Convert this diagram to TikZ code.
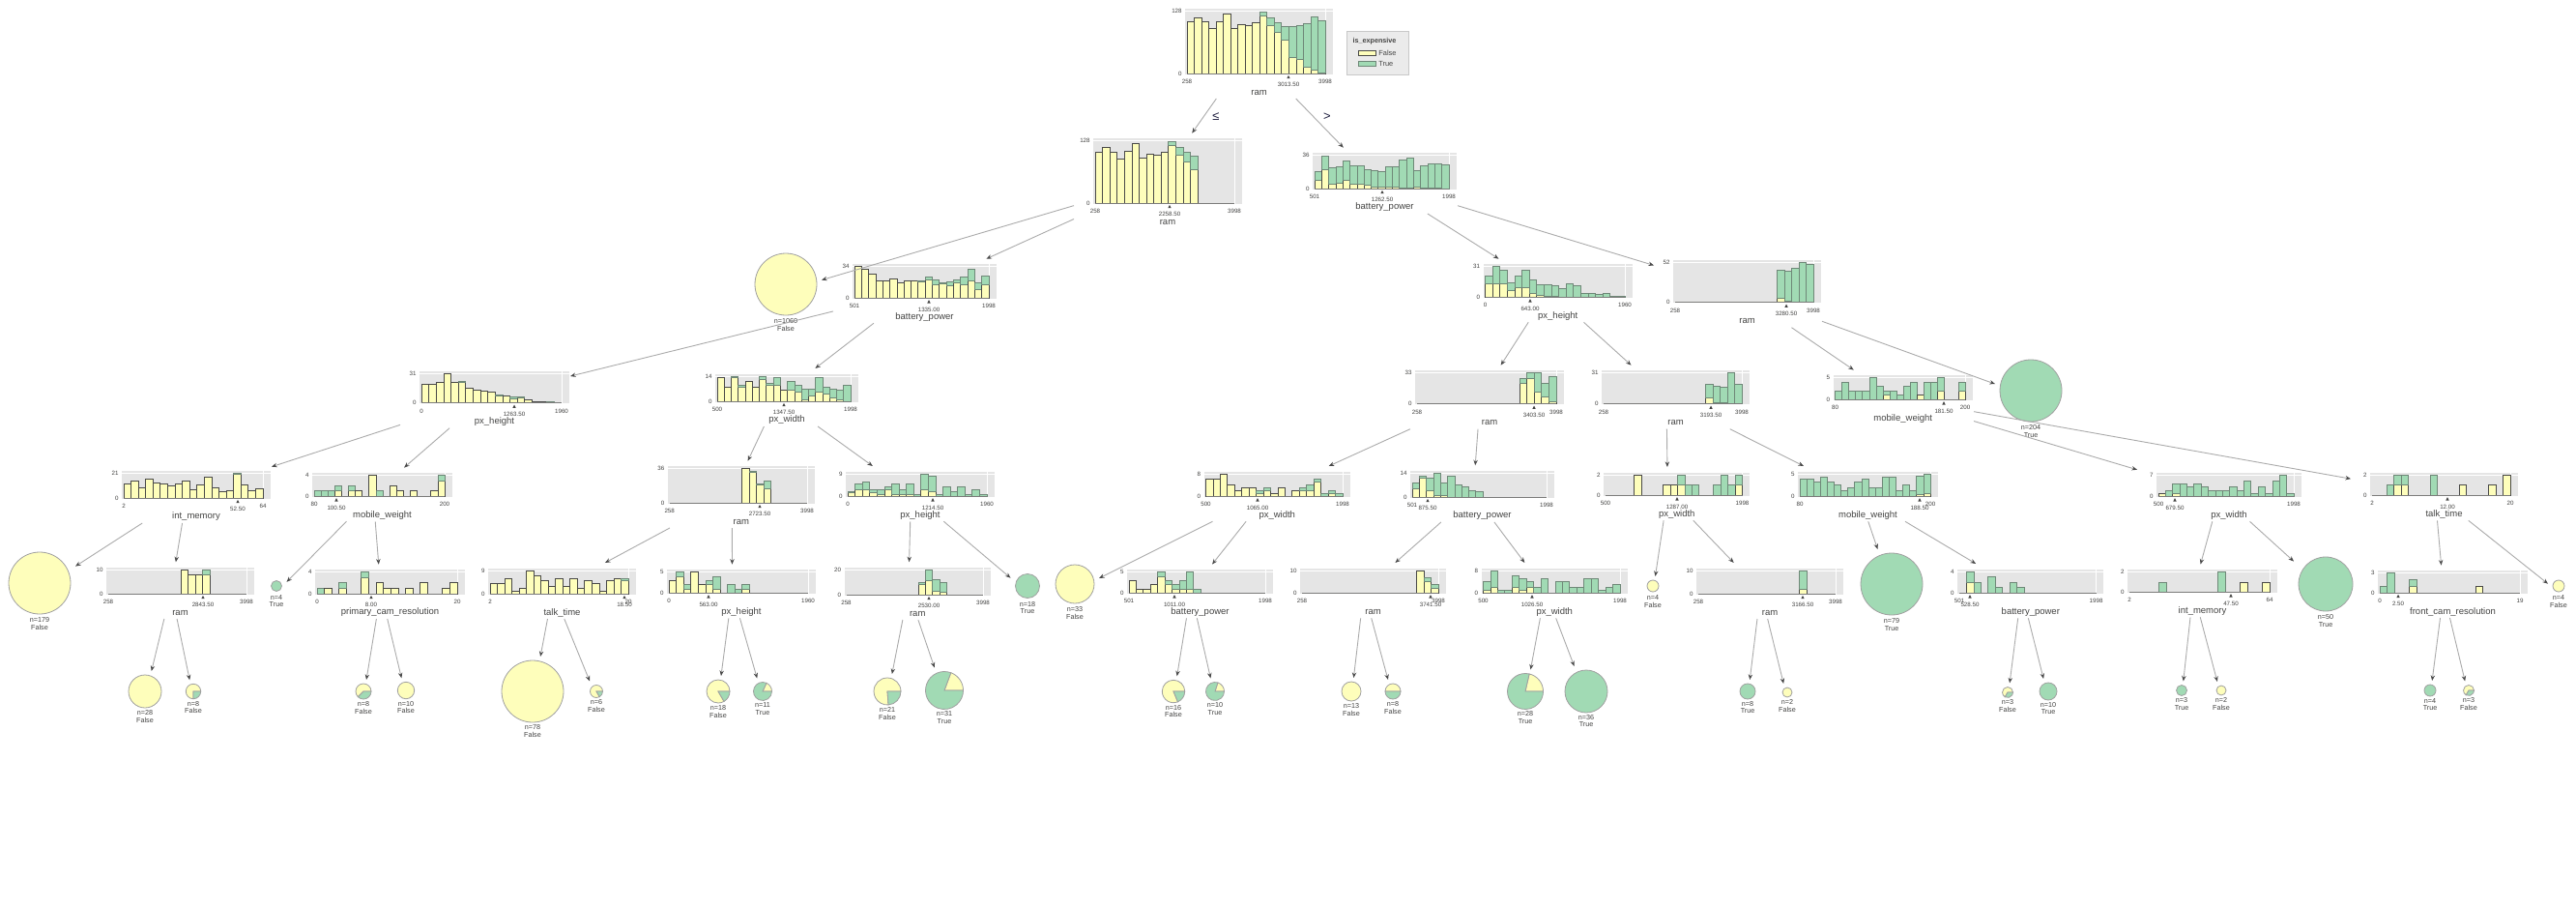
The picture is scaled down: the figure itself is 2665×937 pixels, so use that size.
\documentclass[tikz,border=0pt]{standalone}
\usepackage{fontspec}
\setmainfont{Liberation Sans}
\usetikzlibrary{arrows.meta}
\definecolor{cY}{HTML}{FEFEBB}
\definecolor{cG}{HTML}{A1DAB4}
\definecolor{cBg}{HTML}{E5E5E5}
\definecolor{cYe}{HTML}{4A4A48}
\definecolor{cGe}{HTML}{6F8878}
\definecolor{cTxt}{HTML}{444443}
\definecolor{cEdge}{HTML}{ABABAB}
\definecolor{cArr}{HTML}{4A4A4A}
\definecolor{cCirc}{HTML}{A0A0A0}
\definecolor{cLeg}{HTML}{EBEBEB}
\definecolor{cLegB}{HTML}{C8C8C8}
\definecolor{cSplit}{HTML}{202040}
\tikzset{
 ybar/.style={fill=cY,draw=cYe,line width=0.4pt},
 gbar/.style={fill=cG,draw=cGe,line width=0.4pt},
 ticklab/.style={inner sep=0,text=cTxt,font=\fontsize{3.1pt}{3.4pt}\selectfont},
 featlab/.style={inner sep=0,text=cTxt,font=\fontsize{4.75pt}{5pt}\selectfont},
 leaflab/.style={inner sep=0,text=cTxt,font=\fontsize{3.6pt}{4pt}\selectfont},
 leglab/.style={inner sep=0,text=cTxt,font=\fontsize{3.7pt}{4pt}\selectfont},
 bbox/.style={inner sep=0,outer sep=0},
 edge/.style={draw=cEdge,line width=0.45pt,-{Stealth[length=2.8pt,width=2.2pt,color=cArr]}},
 circ/.style={draw=cCirc,line width=0.4pt},
 splitlab/.style={inner sep=0,text=cSplit,font=\fontsize{6.5pt}{7pt}\selectfont},
}
% histogram node: name, xa, xb, ybase, H, max, bars
\newcommand\hnode[7]{%
 \def\hxa{#2}\def\hxb{#3}\def\hyb{#4}%
 \fill[cBg] (#2-2,#4-#5-2.5) rectangle (#3+7.5,#4+0.5);
 \draw[white,line width=0.5pt] (#2-2,#4-#5) -- (#3+7.5,#4-#5);
 \draw[white,line width=0.5pt] (#3,#4-#5-2.5) -- (#3,#4+0.5);
 \foreach \q [count=\c] in {#7} {\xdef\nb{\c}}
 \foreach \yy/\gg [count=\i] in {#7} {%
   \pgfmathsetmacro\xl{#2+(\i-1)*(#3-#2)/\nb}%
   \pgfmathsetmacro\xr{#2+\i*(#3-#2)/\nb}%
   \pgfmathsetmacro\ht{#5*\yy/#6}%
   \pgfmathsetmacro\hg{#5*(\yy+\gg)/#6}%
   \ifdim\yy pt>0pt \draw[ybar] (\xl,#4) rectangle (\xr,#4-\ht);\fi
   \ifdim\gg pt>0pt \draw[gbar] (\xl,#4-\ht) rectangle (\xr,#4-\hg);\fi
 }
 \draw[cTxt!70,line width=0.4pt] (#2,#4) -- (#3,#4);
 \node[ticklab,anchor=east] at (#2-5,#4-#5) {#6};
 \node[ticklab,anchor=east] at (#2-5,#4) {0};
 \pgfmathsetmacro\bw{(#3-#2+31)*0.5}%
 \pgfmathsetmacro\bh{(#5+34)*0.5}%
 \node[bbox,minimum width=\bw pt,minimum height=\bh pt] (#1) at ({(#2+#3)/2-6.5},{#4-#5/2+9}) {};
}
% axis labels: min, max, xs, split, feature
\newcommand\axl[5]{%
 \node[ticklab] at (\hxa,\hyb+8.5) {#1};
 \node[ticklab] at (\hxb,\hyb+8.5) {#2};
 \node[ticklab] at (#3,\hyb+11.8) {#4};
 \fill[cTxt] (#3,\hyb+1.8) -- (#3-1.7,\hyb+5.2) -- (#3+1.7,\hyb+5.2) -- cycle;
 \node[featlab] at ({(\hxa+\hxb)/2+3},\hyb+19.5) {#5};
}
% leaf: name, cx, cy, r, colour, n, label
\newcommand\leafnode[7]{%
 \filldraw[fill=#5,circ] (#2,#3) circle[radius=#4];
 \node[leaflab] at (#2,#3+#4+6.5) {n=#6};
 \node[leaflab] at (#2,#3+#4+14) {#7};
 \pgfmathsetmacro\bw{(2*#4+10)*0.5}%
 \pgfmathsetmacro\bh{(2*#4+21)*0.5}%
 \node[bbox,minimum width=\bw pt,minimum height=\bh pt] (#1) at (#2,#3+6.5) {};
}
% pie: name, cx, cy, r, nYellow, nGreen, label
\newcommand\pienode[7]{%
 \pgfmathtruncatemacro\pn{#5+#6}%
 \pgfmathsetmacro\pa{-360*(#5/(#5+#6))}%
 \ifnum#6=0 \filldraw[fill=cY,circ] (#2,#3) circle[radius=#4];
 \else\ifnum#5=0 \filldraw[fill=cG,circ] (#2,#3) circle[radius=#4];
 \else
  \filldraw[fill=cY,circ] (#2,#3) -- ++(0:#4) arc[start angle=0,end angle=\pa,radius=#4] -- cycle;
  \filldraw[fill=cG,circ] (#2,#3) -- ++(\pa:#4) arc[start angle=\pa,end angle=-360,radius=#4] -- cycle;
 \fi\fi
 \node[leaflab] at (#2,#3+#4+5) {n=\pn};
 \node[leaflab] at (#2,#3+#4+12.5) {#7};
 \pgfmathsetmacro\bw{(2*#4+10)*0.5}%
 \pgfmathsetmacro\bh{(2*#4+21)*0.5}%
 \node[bbox,minimum width=\bw pt,minimum height=\bh pt] (#1) at (#2,#3+6.5) {};
}
\begin{document}
\begin{tikzpicture}[x=0.5pt,y=-0.5pt]
\useasboundingbox (0,0) rectangle (2665,937);
\fill[white] (0,0) rectangle (2665,937);

% level 0
\hnode{R}{1228}{1371}{76}{64.3}{128}{106/0,115/0,106/0,92/0,107/0,123/0,93/0,101/0,98/0,105/0,118/8,99/16,85/20,68/29,33/64,30/69,13/90,7/109,1/107}
\axl{258}{3998}{1333}{3013.50}{ram}
% legend
\node[bbox,draw=cLegB,fill=cLeg,minimum width=32pt,minimum height=22.5pt] (legend) at (1425,54.5) {};
\node[leglab,font=\fontsize{3.6pt}{4pt}\selectfont\bfseries] (legtitle) at (1422,43) {is\_expensive};
\filldraw[fill=cY,draw=cYe,line width=0.4pt] (1405,52) rectangle (1423,57.5);
\node[leglab,anchor=west] (legF) at (1426,54.8) {False};
\filldraw[fill=cG,draw=cGe,line width=0.4pt] (1405,63) rectangle (1423,68.5);
\node[leglab,anchor=west] (legT) at (1426,65.8) {True};

% level 1
\hnode{A}{1133}{1277}{210}{64.3}{128}{105/0,115/0,105/0,91/0,106/0,123/0,93/0,100/0,98/0,104/0,118/8,98/17,85/19,69/27,0/0,0/0,0/0,0/0,0/0}
\axl{258}{3998}{1210}{2258.50}{ram}
\hnode{B}{1360}{1499}{195}{34.3}{36}{9/9,21/14,5/18,6/18,9/21,5/20,5/20,4/17,2/18,2/16,2/22,2/22,1/30,1/32,2/18,0.4/24,0.4/26,0.4/26,0/26}
\axl{501}{1998}{1430}{1262.50}{battery\_power}

% level 2
\leafnode{L1}{813}{294}{32}{cY}{1060}{False}
\hnode{C}{884}{1023}{308.3}{32.6}{34}{34/0,31/0,26/0,19/0,19/0,21/0,17/0,19/0,19/0,18/1,20/3,14/6,16/1,13/5,17/3,14/9,19/12,9/8,14/10}
\axl{501}{1998}{961}{1335.00}{battery\_power}
\hnode{D}{1536.5}{1681}{307.3}{31.6}{31}{14/7,14/17,14/13,7/8,10/11,10/17,4/14,2/11,1/12,1/11,0/9,0/14,0/12,0/4,0/4,0/3,0/4,0/1,0/1}
\axl{0}{1960}{1583}{643.00}{px\_height}
\hnode{E}{1733}{1876}{312.7}{41.7}{52}{0/0,0/0,0/0,0/0,0/0,0/0,0/0,0/0,0/0,0/0,0/0,0/0,0/0,0/0,5/37,2/38,0/44,0/52,0/49}
\axl{258}{3998}{1848}{3280.50}{ram}

% level 3
\hnode{F}{436}{581}{416.7}{30}{31}{20/0,20/0,22/0,31/0,22/0,22/1,16/0,14/0,13/0,12/0,8/1,8/0,4/3,5/1,3/0,1/0,1/0,1/0.5,0/0}
\axl{0}{1960}{532}{1263.50}{px\_height}
\hnode{G}{742}{880}{415}{26}{14}{13/0,8/0,13/1,8/1,11/0,8/0,12/2,9/1,9/4,6/0,6/5,5/4,1/6,3/4,5/8,4/4,2/5,1/5,0/9}
\axl{500}{1998}{811}{1347.50}{px\_width}
\hnode{H}{1466}{1610}{417.7}{32}{33}{0/0,0/0,0/0,0/0,0/0,0/0,0/0,0/0,0/0,0/0,0/0,0/0,0/0,0/0,22/5,27/6,13/20,8/14,2/27}
\axl{258}{3998}{1587}{3403.50}{ram}
\hnode{I}{1659}{1802}{417.7}{32}{31}{0/0,0/0,0/0,0/0,0/0,0/0,0/0,0/0,0/0,0/0,0/0,0/0,0/0,0/0,6/14,1/17,1/16,0/31,0/20}
\axl{258}{3998}{1770}{3193.50}{ram}
\hnode{J}{1898.5}{2033}{413.3}{22.7}{5}{0/2,0/4,0/2,0/2,0/2,0/5,0/3,1/1,0/2,0/1,0/3,0/4,1/0,0/4,0/4,2/3,0/0,0/0,2/2}
\axl{80}{200}{2011}{181.50}{mobile\_weight}
\leafnode{L2}{2101}{404}{32}{cG}{204}{True}

% level 4
\hnode{K}{128}{272}{515}{25.7}{21}{12/0,14/0,9/0,16/0,13/0,12/0,10/0,12/0,14/0,7/0,11/0,18/0,9/0,5/0,6/0,20/1,11/0,6/0,8/0}
\axl{2}{64}{246}{52.50}{int\_memory}
\hnode{M}{325}{460}{513.3}{21.7}{4}{0/1,0/1,0/1,1/1,0/0,1/1,1/0,0/0,4/0,0/1,0/0,2/0,1/0,0/0,1/0,0/0,0/0,1/0,3/1}
\axl{80}{200}{348}{100.50}{mobile\_weight}
\hnode{N}{692.7}{835}{520}{35.3}{36}{0/0,0/0,0/0,0/0,0/0,0/0,0/0,0/0,0/0,0/0,36/0,32/1,19/1,15/8,0/0,0/0,0/0,0/0,0/0}
\axl{258}{3998}{786}{2723.50}{ram}
\hnode{O}{877}{1021}{513.3}{23.3}{9}{1.5/0.4,2.8/2.1,2.8/3,1.5/1.3,0.6/2.2,2.8/1.1,0.6/4.3,0.6/2.2,0.6/4.3,0/0.6,2.8/6.2,1.9/6.1,0/0.6,0/3.9,0/1.9,0/3.9,0/0.6,0/2.8,0/0.6}
\axl{0}{1960}{965}{1214.50}{px\_height}
\hnode{P}{1247.5}{1389}{513.3}{23.3}{8}{6/0,6/0,8/0,4/0,2/0,3/0,3/0,1/1,2/1,1/0,3/0,0/0,2/0,2/1,2/2,5/1,0/1,1/1,0/1}
\axl{500}{1998}{1301}{1065.00}{px\_width}
\hnode{Q}{1461}{1600}{514}{24.7}{14}{5/3,11/1,4/7,1/13,1/7,0/12,0/7,0/6,0/4,0/3,0/0,0/0,0/0,0/0,0/0,0/0,0/0,0/0,0/0}
\axl{501}{1998}{1477}{875.50}{battery\_power}
\hnode{S}{1661}{1802.5}{512.3}{21.3}{2}{0/0,0/0,0/0,0/0,2/0,0/0,0/0,0/0,1/0,1/0,1/1,0/1,0/1,0/0,0/0,0/1,0/2,0/1,1/1}
\axl{500}{1998}{1735}{1287.00}{px\_width}
\hnode{T}{1862}{1997}{513.3}{23.3}{5}{0/3.8,0/3.8,0/3.1,0/4.3,0/3.1,0/2.6,0/1.3,0/2,0/3.1,0/3.8,0/2,0/2,0/4.3,0/4.3,0/1.3,0/2.6,0/1.3,0.4/4,0.6/4.4}
\axl{80}{200}{1986}{188.50}{mobile\_weight}
\hnode{U}{2233}{2373}{513.3}{22.3}{7}{1/0,0/2,1/3,0/4,0/3,0/4,0/3,0/2,0/2,0/2,0/3,0/2,0/5,0/1,0/3,0/1,0/5,0/7,0/1}
\axl{500}{1998}{2250}{679.50}{px\_width}
\hnode{V}{2454}{2597}{512.3}{21.3}{2}{0/0,0/0,0/1,1/1,1/1,0/0,0/0,0/0,0/2,0/0,0/0,0/0,1/0,0/0,0/0,0/0,1/0,0/0,2/0}
\axl{2}{20}{2532}{12.00}{talk\_time}

% level 5
\leafnode{L179}{41}{603}{32}{cY}{179}{False}
\hnode{W}{112}{255}{614}{24.7}{10}{0/0,0/0,0/0,0/0,0/0,0/0,0/0,0/0,0/0,0/0,10/0,8/0,8/0,8/2,0/0,0/0,0/0,0/0,0/0}
\axl{258}{3998}{210}{2843.50}{ram}
\leafnode{L4T}{286}{606}{5.5}{cG}{4}{True}
\hnode{X}{328}{473}{614}{22.3}{4}{0/1,1/0,0/0,1/1,0/0,0/0,3/1,0/0,2/0,1/0,1/0,0/0,1/0,0/0,2/0,0/0,0/0,1/0,2/0}
\axl{0}{20}{384}{8.00}{primary\_cam\_resolution}
\hnode{Y}{507}{650}{614}{24}{9}{4/0,4/0,6/0,1/0,2/0,9/0,7/0,5/0,3/0,6/0,3/0,6/0,2/0,5/0,4/0,1/0,5/0,6/0,5/1}
\axl{2}{20}{646}{18.50}{talk\_time}
\hnode{Z}{692}{836}{613.3}{21.6}{5}{3/0,4/1,1/1,5/0,2/0,2/1,1/3,0/0,0/2,0/1,1/1,0/0,0/0,0/0,0/0,0/0,0/0,0/0,0/0}
\axl{0}{1960}{733}{563.00}{px\_height}
\hnode{AA}{875.5}{1017}{615}{25.7}{20}{0/0,0/0,0/0,0/0,0/0,0/0,0/0,0/0,0/0,0/0,8/2,11/9,3/9,2/8,0/0,0/0,0/0,0/0,0/0}
\axl{258}{3998}{961}{2530.00}{ram}
\leafnode{L18}{1063}{606}{12.5}{cG}{18}{True}
\leafnode{L33}{1112}{604}{20}{cY}{33}{False}
\hnode{AB}{1168}{1309}{613.3}{21.7}{5}{3/0,1/0,1/0,2/0,4/1,2/1,1/1,1/2,1/4,0/1,0/0,0/0,0/0,0/0,0/0,0/0,0/0,0/0,0/0}
\axl{501}{1998}{1215}{1011.00}{battery\_power}
\hnode{AC}{1347}{1488}{613.3}{23.3}{10}{0/0,0/0,0/0,0/0,0/0,0/0,0/0,0/0,0/0,0/0,0/0,0/0,0/0,0/0,0/0,0/0,10/0,5/2,2/2}
\axl{258}{3998}{1480}{3741.50}{ram}
\hnode{AD}{1534.5}{1676}{613.3}{23.3}{8}{1/3,2/6,0/1,0/1,2/4,1/4,2/2,0/2,0/5,0/0,0/4,0/4,0/2,0/2,0/5,0/5,0/1,0/2,0/3}
\axl{500}{1998}{1585}{1026.50}{px\_width}
\leafnode{L4F}{1710}{606}{6}{cY}{4}{False}
\hnode{AE}{1757}{1899}{614}{24}{10}{0/0,0/0,0/0,0/0,0/0,0/0,0/0,0/0,0/0,0/0,0/0,0/0,0/0,0/0,2/8,0/0,0/0,0/0,0/0}
\axl{258}{3998}{1865}{3166.50}{ram}
\leafnode{L79}{1957}{604}{32}{cG}{79}{True}
\hnode{AF}{2027}{2168.6}{613.3}{22.3}{4}{0/0,2/2,0/2,0/0,0/3,0/1,0/0,0/2,0/1,0/0,0/0,0/0,0/0,0/0,0/0,0/0,0/0,0/0,0/0}
\axl{501}{1998}{2038}{528.50}{battery\_power}
\hnode{AG}{2203}{2348}{612.3}{20.7}{2}{0/0,0/0,0/0,0/0,0/1,0/0,0/0,0/0,0/0,0/0,0/0,0/0,0/2,0/0,0/0,1/0,0/0,0/0,1/0}
\axl{2}{64}{2308}{47.50}{int\_memory}
\leafnode{L50}{2406}{604}{28}{cG}{50}{True}
\hnode{AH}{2462}{2607}{613}{20.3}{3}{0/1,0/3,0/0,0/0,1/1,0/0,0/0,0/0,0/0,0/0,0/0,0/0,0/0,1/0,0/0,0/0,0/0,0/0,0/0}
\axl{0}{19}{2481}{2.50}{front\_cam\_resolution}
\leafnode{L4F2}{2647}{606}{6}{cY}{4}{False}

% level 6 pies
\pienode{P1}{150}{715}{17}{28}{0}{False}
\pienode{P2}{200}{715}{7.7}{6}{2}{False}
\pienode{P3}{376}{715}{8}{5}{3}{False}
\pienode{P4}{420}{714}{8.7}{10}{0}{False}
\pienode{P5}{551}{715}{32}{78}{0}{False}
\pienode{P6}{617}{715}{6.5}{5}{1}{False}
\pienode{P7}{743}{715}{12}{15}{3}{False}
\pienode{P8}{789}{715}{9.5}{2}{9}{True}
\pienode{P9}{918}{715}{14}{16}{5}{False}
\pienode{P10}{977}{714}{19.5}{6}{25}{True}
\pienode{P11}{1214}{715}{11.7}{13}{3}{False}
\pienode{P12}{1257}{715}{9.5}{2}{8}{True}
\pienode{P13}{1398}{715}{10}{13}{0}{False}
\pienode{P14}{1441}{715}{8}{4}{4}{False}
\pienode{P15}{1578}{715}{18.5}{6}{22}{True}
\pienode{P16}{1641}{715}{22}{0}{36}{True}
\pienode{P17}{1808}{715}{8}{0}{8}{True}
\pienode{P18}{1849}{716}{5}{2}{0}{False}
\pienode{P19}{2077}{716}{5.5}{2}{1}{False}
\pienode{P20}{2119}{715}{9}{0}{10}{True}
\pienode{P21}{2257}{714}{5.5}{0}{3}{True}
\pienode{P22}{2298}{714}{5}{2}{0}{False}
\pienode{P23}{2514}{714}{6}{0}{4}{True}
\pienode{P24}{2554}{714}{5.5}{2}{1}{False}

% edges
\draw[edge] (R) -- (A);
\draw[edge] (R) -- (B);
\draw[edge] (A) -- (L1);
\draw[edge] (A) -- (C);
\draw[edge] (B) -- (D);
\draw[edge] (B) -- (E);
\draw[edge] (C) -- (F);
\draw[edge] (C) -- (G);
\draw[edge] (D) -- (H);
\draw[edge] (D) -- (I);
\draw[edge] (E) -- (J);
\draw[edge] (E) -- (L2);
\draw[edge] (F) -- (K);
\draw[edge] (F) -- (M);
\draw[edge] (G) -- (N);
\draw[edge] (G) -- (O);
\draw[edge] (H) -- (P);
\draw[edge] (H) -- (Q);
\draw[edge] (I) -- (S);
\draw[edge] (I) -- (T);
\draw[edge] (J) -- (U);
\draw[edge] (J) -- (V);
\draw[edge] (K) -- (L179);
\draw[edge] (K) -- (W);
\draw[edge] (M) -- (L4T);
\draw[edge] (M) -- (X);
\draw[edge] (N) -- (Y);
\draw[edge] (N) -- (Z);
\draw[edge] (O) -- (AA);
\draw[edge] (O) -- (L18);
\draw[edge] (P) -- (L33);
\draw[edge] (P) -- (AB);
\draw[edge] (Q) -- (AC);
\draw[edge] (Q) -- (AD);
\draw[edge] (S) -- (L4F);
\draw[edge] (S) -- (AE);
\draw[edge] (T) -- (L79);
\draw[edge] (T) -- (AF);
\draw[edge] (U) -- (AG);
\draw[edge] (U) -- (L50);
\draw[edge] (V) -- (AH);
\draw[edge] (V) -- (L4F2);
\draw[edge] (W) -- (P1);
\draw[edge] (W) -- (P2);
\draw[edge] (X) -- (P3);
\draw[edge] (X) -- (P4);
\draw[edge] (Y) -- (P5);
\draw[edge] (Y) -- (P6);
\draw[edge] (Z) -- (P7);
\draw[edge] (Z) -- (P8);
\draw[edge] (AA) -- (P9);
\draw[edge] (AA) -- (P10);
\draw[edge] (AB) -- (P11);
\draw[edge] (AB) -- (P12);
\draw[edge] (AC) -- (P13);
\draw[edge] (AC) -- (P14);
\draw[edge] (AD) -- (P15);
\draw[edge] (AD) -- (P16);
\draw[edge] (AE) -- (P17);
\draw[edge] (AE) -- (P18);
\draw[edge] (AF) -- (P19);
\draw[edge] (AF) -- (P20);
\draw[edge] (AG) -- (P21);
\draw[edge] (AG) -- (P22);
\draw[edge] (AH) -- (P23);
\draw[edge] (AH) -- (P24);
\node[splitlab] (le) at (1258,121) {≤};
\node[splitlab] (gt) at (1373,120.5) {>};
\end{tikzpicture}
\end{document}
